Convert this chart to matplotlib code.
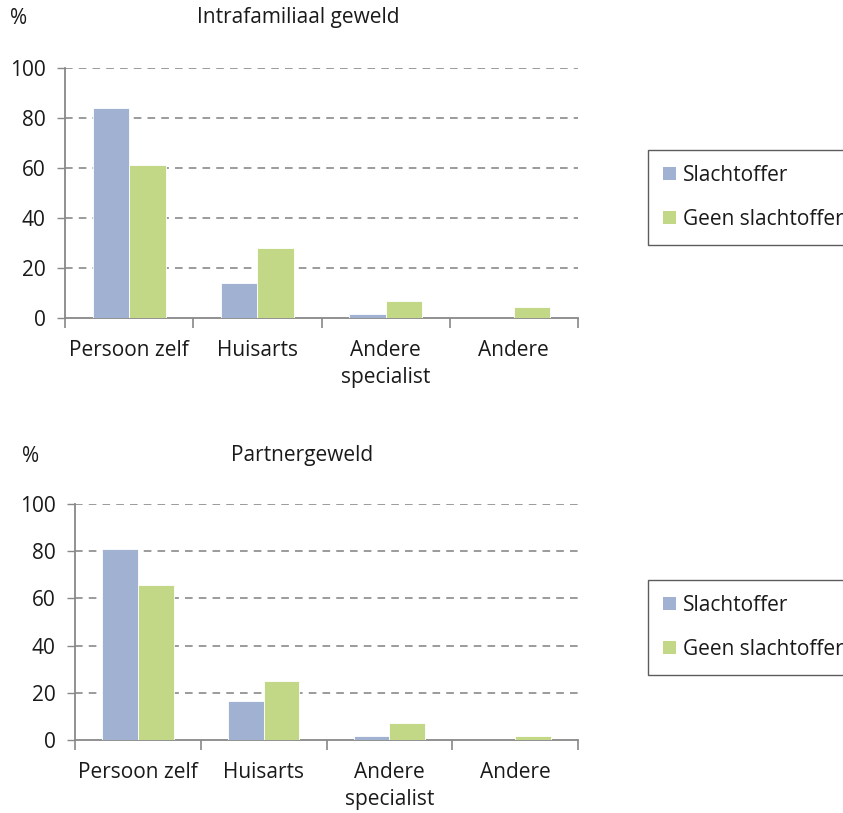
import matplotlib
matplotlib.use("Agg")
import matplotlib.pyplot as plt
import numpy as np
from matplotlib.patches import Patch

plt.rcParams['font.family'] = ['Open Sans', 'DejaVu Sans']

categories = ["Persoon zelf", "Huisarts", "Andere\nspecialist", "Andere"]
series_names = ["Slachtoffer", "Geen slachtoffer"]

intra_victim = [84, 14, 1.7, 0]
intra_nonvictim = [61, 28, 6.7, 4.2]

partner_victim = [81, 16.5, 1.9, 0]
partner_nonvictim = [65.5, 25, 7, 1.9]

yticks = [0, 20, 40, 60, 80, 100]

BLUE = "#A0B1D1"
GREEN = "#C3D886"
AXIS = "#888888"
TEXT = "#1a1a1a"
FS = 15

fig = plt.figure(figsize=(8.43, 8.13), dpi=100)


def draw_panel(rect, victim, nonvictim, title, title_x, pct_x, label_y):
    ax = fig.add_axes(rect)
    x = np.arange(len(categories))
    w = 0.285
    ax.bar(x - w / 2, victim, width=w, color=BLUE, edgecolor="white", linewidth=0.6, zorder=3)
    ax.bar(x + w / 2, nonvictim, width=w, color=GREEN, edgecolor="white", linewidth=0.6, zorder=3)
    ax.set_xlim(-0.5, len(categories) - 0.5)
    ax.set_ylim(0, 100)
    ax.set_yticks(yticks)
    ax.set_yticklabels([str(v) for v in yticks], fontsize=FS, color=TEXT)
    for v in yticks[1:]:
        ax.axhline(v, color="#808080", linestyle=(0, (5, 4)), linewidth=1.1, zorder=1)
    ax.set_xticks(x)
    ax.set_xticklabels(categories, fontsize=FS, color=TEXT, linespacing=1.38)
    ax.tick_params(axis="x", length=0, pad=16)
    # category separators on the x axis
    ax.set_xticks(np.arange(len(categories) + 1) - 0.5, minor=True)
    ax.tick_params(axis="x", which="minor", length=7, width=1.2, color=AXIS, direction="out")
    ax.tick_params(axis="y", length=6, width=1.0, color=AXIS, direction="out", pad=8)
    for side in ("top", "right"):
        ax.spines[side].set_visible(False)
    for side in ("left", "bottom"):
        ax.spines[side].set_color(AXIS)
        ax.spines[side].set_linewidth(1.3)
    fig.text(title_x / 843, 1 - label_y / 813, title, fontsize=FS, color=TEXT,
             ha="center", va="center")
    fig.text(pct_x / 843, 1 - label_y / 813, "%", fontsize=FS, color=TEXT,
             ha="center", va="center")
    return ax


draw_panel([65 / 843, 1 - 318 / 813, 513 / 843, 250 / 813],
           intra_victim, intra_nonvictim, "Intrafamiliaal geweld", 298, 19, 18)
draw_panel([75 / 843, 1 - 740 / 813, 503 / 843, 236 / 813],
           partner_victim, partner_nonvictim, "Partnergeweld", 302, 31, 456)

handles = [Patch(facecolor=BLUE, edgecolor="none"), Patch(facecolor=GREEN, edgecolor="none")]
for top in (150, 580):
    leg = fig.legend(handles, series_names, loc="upper left",
                     bbox_to_anchor=(648 / 843, 1 - top / 813),
                     fontsize=FS, frameon=True, fancybox=False,
                     handlelength=0.6, handleheight=0.6, handletextpad=0.35,
                     labelspacing=1.1, borderpad=0.72, borderaxespad=0)
    leg.get_frame().set_edgecolor("#333333")
    leg.get_frame().set_linewidth(1.0)
    for t in leg.get_texts():
        t.set_color(TEXT)

fig.savefig("out.png", dpi=100, facecolor="white")
